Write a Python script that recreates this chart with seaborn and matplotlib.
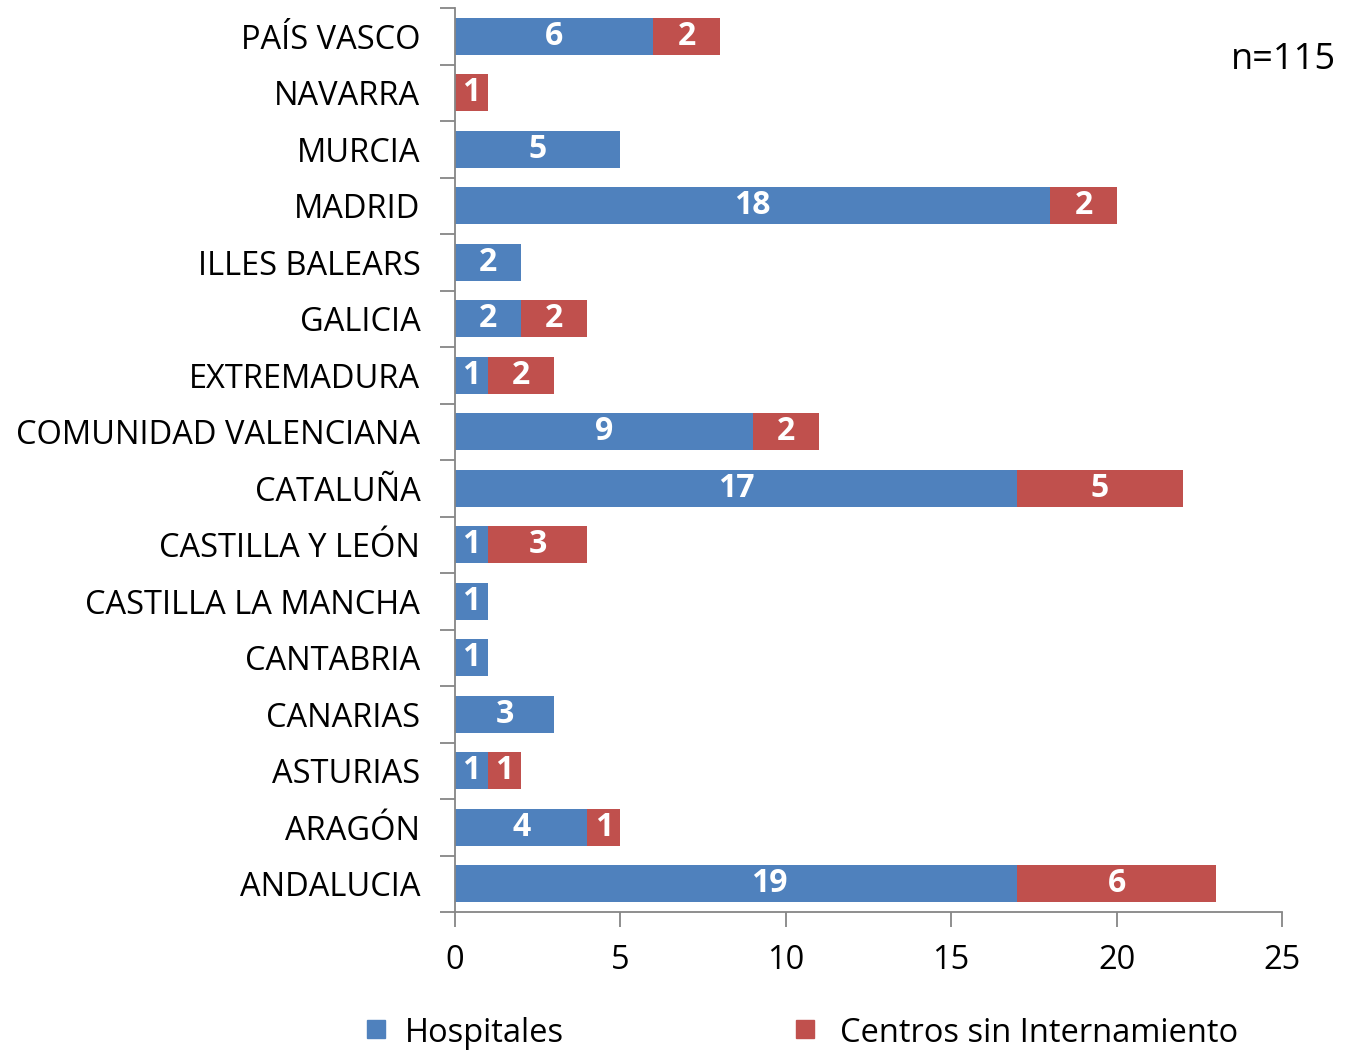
import matplotlib
matplotlib.use("Agg")
import matplotlib.pyplot as plt
import seaborn as sns
import pandas as pd

# -----------------------------
# Data (top to bottom)
# -----------------------------
regiones = [
    "PAÍS VASCO", "NAVARRA", "MURCIA", "MADRID", "ILLES BALEARS", "GALICIA",
    "EXTREMADURA", "COMUNIDAD VALENCIANA", "CATALUÑA", "CASTILLA Y LEÓN",
    "CASTILLA LA MANCHA", "CANTABRIA", "CANARIAS", "ASTURIAS", "ARAGÓN",
    "ANDALUCIA",
]
hospitales = [6, 0, 5, 18, 2, 2, 1, 9, 17, 1, 1, 1, 3, 1, 4, 19]
centros = [2, 1, 0, 2, 0, 2, 2, 2, 5, 3, 0, 0, 0, 1, 1, 6]
x_ticks = [0, 5, 10, 15, 20, 25]
n_text = "n=115"

BLUE = "#4F81BD"
RED = "#C0504D"
GRAY = "#868686"

df = pd.DataFrame({"region": regiones, "hospitales": hospitales, "centros": centros})
# the original chart starts the red segment of ANDALUCIA at 17, over the blue one
df["red_start"] = df["hospitales"]
df.loc[df["region"] == "ANDALUCIA", "red_start"] = 17

sns.set_theme(style="white")
plt.rcParams["font.family"] = ["Open Sans", "DejaVu Sans"]
plt.rcParams["text.color"] = "black"
plt.rcParams["xtick.color"] = "black"
plt.rcParams["ytick.color"] = "black"

fig = plt.figure(figsize=(13.48, 10.5), dpi=100)
ax = fig.add_axes([455 / 1348, 138 / 1050, 827 / 1348, 904 / 1050])

sns.barplot(data=df, x="hospitales", y="region", color=BLUE, width=0.66,
            saturation=1, linewidth=0, ax=ax, orient="h")
red = ax.barh(range(len(df)), df["centros"], left=df["red_start"],
              height=0.66, color=RED, linewidth=0)

# labels
for cont in [ax.containers[0], red]:
    labs = [str(int(b.get_width())) if b.get_width() > 0 else "" for b in cont]
    ax.bar_label(cont, labels=labs, label_type="center", color="white",
                 fontsize=23, fontweight="bold")

ax.set_xlim(0, 25)
ax.set_ylim(len(df) - 0.5, -0.5)
ax.set_xticks(x_ticks)
ax.set_xlabel("")
ax.set_ylabel("")

# category boundaries as tick marks (Excel style)
ax.set_yticks([i + 0.5 for i in range(-1, len(df))], minor=False)
ax.set_yticklabels([])
ax.set_yticks(range(len(df)), minor=True)
ax.set_yticklabels(regiones, minor=True, fontsize=23.5)
ax.tick_params(axis="y", which="minor", length=0, pad=25, labelcolor="black")
ax.tick_params(axis="y", which="major", length=11, width=1.3, color=GRAY, left=True)
ax.tick_params(axis="x", length=11, width=1.3, color=GRAY, bottom=True,
               labelsize=23.5, pad=12, labelcolor="black")

for s in ["top", "right"]:
    ax.spines[s].set_visible(False)
for s in ["left", "bottom"]:
    ax.spines[s].set_color(GRAY)
    ax.spines[s].set_linewidth(1.3)

fig.text(1336 / 1348, 1 - 60 / 1050, n_text, ha="right", va="center", fontsize=26)

# legend
fig.patches.append(plt.Rectangle((367 / 1348, 1 - 1038 / 1050), 18 / 1348, 18 / 1050,
                                 transform=fig.transFigure, color=BLUE))
fig.text(405 / 1348, 1 - 1033 / 1050, "Hospitales", va="center", fontsize=23.5)
fig.patches.append(plt.Rectangle((796 / 1348, 1 - 1038 / 1050), 18 / 1348, 18 / 1050,
                                 transform=fig.transFigure, color=RED))
fig.text(840 / 1348, 1 - 1033 / 1050, "Centros sin Internamiento", va="center", fontsize=23.5)

fig.savefig("out.png", dpi=100)
